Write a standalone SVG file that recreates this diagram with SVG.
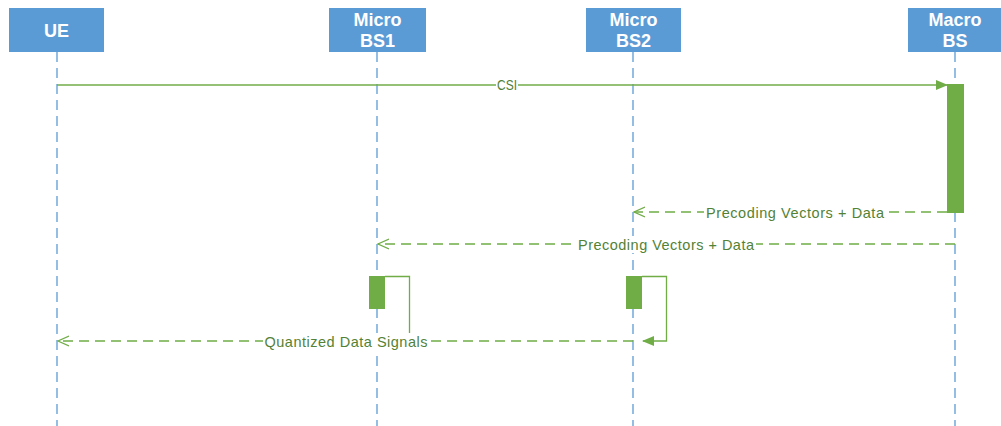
<svg xmlns="http://www.w3.org/2000/svg" width="1001" height="426" viewBox="0 0 1001 426">
  <style>
    .head rect { fill: #5B9BD5; }
    .head text { fill: #FFFFFF; font-family: "Liberation Sans", Arial, sans-serif; font-weight: bold; font-size: 18px; text-anchor: middle; }
    .life { stroke: #5B9BD5; stroke-width: 1.3; stroke-dasharray: 10 6; fill: none; }
    .msg { stroke: #70AD47; stroke-width: 1.3; fill: none; }
    .dash { stroke-dasharray: 10 6; }
    .act { fill: #70AD47; }
    .lbl { fill: #548235; font-family: "Liberation Sans", Arial, sans-serif; font-size: 14.5px; text-anchor: middle; }
    .bg { fill: #FFFFFF; }
  </style>
  <defs>
    <!-- open "V" head for the dashed replies -->
    <marker id="open" viewBox="0 0 12 12" refX="11" refY="6" markerWidth="12" markerHeight="12" markerUnits="userSpaceOnUse" orient="auto">
      <path d="M0,1 L11,6 L0,11" fill="none" stroke="#70AD47" stroke-width="1.3"/>
    </marker>
    <!-- filled head for synchronous calls -->
    <marker id="solid" viewBox="0 0 12 12" refX="11" refY="6" markerWidth="12" markerHeight="12" markerUnits="userSpaceOnUse" orient="auto">
      <path d="M0,1 L12,6 L0,11 Z" fill="#70AD47"/>
    </marker>
  </defs>

  <!-- lifelines -->
  <g id="lifelines">
    <line class="life" x1="57" y1="52" x2="57" y2="426"/>
    <line class="life" x1="377" y1="52" x2="377" y2="426"/>
    <line class="life" x1="633" y1="52" x2="633" y2="426"/>
    <line class="life" x1="955" y1="52" x2="955" y2="426"/>
  </g>

  <!-- participants -->
  <g id="ue" class="head">
    <rect x="9" y="8" width="95" height="44"/>
    <text x="56.5" y="37">UE</text>
  </g>
  <g id="micro-bs1" class="head">
    <rect x="329" y="8" width="97" height="44"/>
    <text x="377.5" y="26">Micro</text>
    <text x="377.5" y="47">BS1</text>
  </g>
  <g id="micro-bs2" class="head">
    <rect x="586" y="8" width="95" height="44"/>
    <text x="633.5" y="26">Micro</text>
    <text x="633.5" y="47">BS2</text>
  </g>
  <g id="macro-bs" class="head">
    <rect x="908" y="8" width="93" height="44"/>
    <text x="955" y="26">Macro</text>
    <text x="955" y="47">BS</text>
  </g>

  <!-- activation bars -->
  <g id="activations">
    <rect class="act" x="947" y="84" width="17" height="129"/>
    <rect class="act" x="369" y="276" width="16" height="33"/>
    <rect class="act" x="626" y="276" width="16" height="33"/>
  </g>

  <!-- messages -->
  <g id="connectors">
    <line class="msg" x1="57" y1="85" x2="947" y2="85" marker-end="url(#solid)"/>
    <line class="msg dash" x1="947" y1="212" x2="634" y2="212" marker-end="url(#open)"/>
    <line class="msg dash" x1="955" y1="244" x2="378" y2="244" marker-end="url(#open)"/>
    <polyline class="msg" points="385,276.5 409.5,276.5 409.5,341 386,341"/>
    <polyline class="msg" points="642,276.5 666.5,276.5 666.5,341 643,341" marker-end="url(#solid)"/>
    <line class="msg dash" x1="633" y1="341" x2="58" y2="341" marker-end="url(#open)"/>
  </g>

  <!-- message labels -->
  <g id="labels">
    <rect class="bg" x="496" y="77" width="22" height="16"/>
    <text class="lbl" x="507" y="90" textLength="20" lengthAdjust="spacingAndGlyphs">CSI</text>
    <rect class="bg" x="704" y="204" width="182" height="17"/>
    <text class="lbl" x="795" y="218" textLength="178">Precoding Vectors + Data</text>
    <rect class="bg" x="576" y="236" width="180" height="17"/>
    <text class="lbl" x="666" y="250" textLength="176">Precoding Vectors + Data</text>
    <rect class="bg" x="263" y="333" width="166" height="17"/>
    <text class="lbl" x="346" y="347" textLength="163">Quantized Data Signals</text>
  </g>
</svg>
